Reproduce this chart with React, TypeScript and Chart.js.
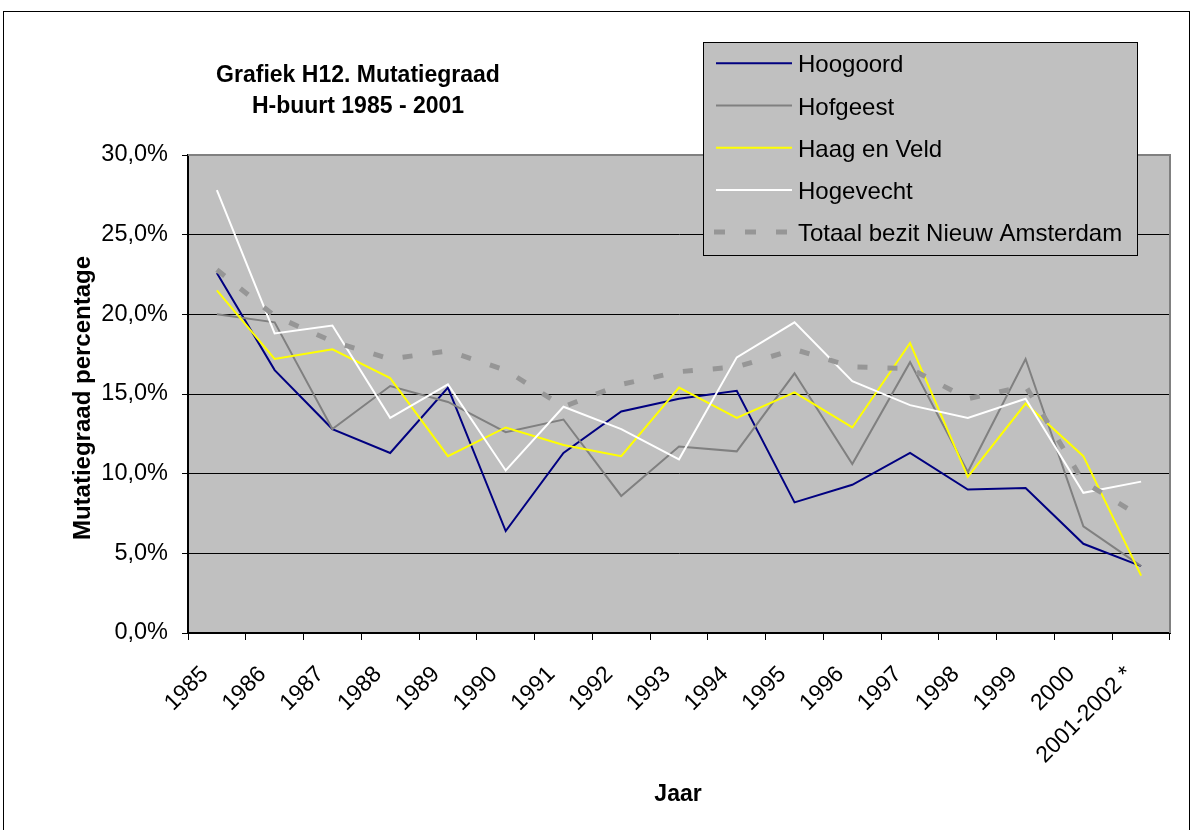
import React, { useEffect, useRef } from 'react';
import { Chart, registerables } from 'chart.js';

Chart.register(...registerables);

const categories = [
  '1985', '1986', '1987', '1988', '1989', '1990', '1991', '1992', '1993',
  '1994', '1995', '1996', '1997', '1998', '1999', '2000', '2001-2002 *',
];

const hoogoord = [22.6, 16.5, 12.8, 11.3, 15.4, 6.4, 11.3, 13.9, 14.7, 15.2, 8.2, 9.3, 11.3, 9.0, 9.1, 5.6, 4.2];
const hofgeest = [20.0, 19.5, 12.8, 15.5, 14.5, 12.6, 13.4, 8.6, 11.7, 11.4, 16.3, 10.6, 17.0, 10.1, 17.2, 6.7, 4.2];
const haagEnVeld = [21.5, 17.2, 17.8, 16.0, 11.1, 12.9, 11.8, 11.1, 15.4, 13.5, 15.1, 12.9, 18.2, 9.8, 14.4, 11.1, 3.6];
const hogevecht = [27.8, 18.8, 19.3, 13.5, 15.6, 10.2, 14.2, 12.8, 10.9, 17.3, 19.5, 15.8, 14.3, 13.5, 14.7, 8.8, 9.5];
const totaal = [22.8, 19.9, 18.3, 17.2, 17.7, 16.5, 14.2, 15.6, 16.4, 16.7, 17.8, 16.7, 16.6, 14.7, 15.5, 9.5, 7.3];

const seriesLabels = ['Hoogoord', 'Hofgeest', 'Haag en Veld', 'Hogevecht', 'Totaal bezit Nieuw Amsterdam'];
const titleLines = ['Grafiek H12. Mutatiegraad', 'H-buurt 1985 - 2001'];
const xTitle = 'Jaar';
const yTitle = 'Mutatiegraad percentage';

const FONT = "'Liberation Sans', Arial, sans-serif";

export default function App() {
  const ref = useRef<HTMLCanvasElement | null>(null);

  useEffect(() => {
    document.body.style.margin = '0';
    const canvas = ref.current;
    if (!canvas) return;

    const decor = {
      id: 'decor',
      beforeDraw(chart: any) {
        const { ctx, chartArea: a } = chart;
        ctx.save();
        ctx.fillStyle = '#ffffff';
        ctx.fillRect(0, 0, chart.width, chart.height);
        ctx.fillStyle = '#C0C0C0';
        ctx.fillRect(a.left, a.top, a.right - a.left, a.bottom - a.top);
        ctx.restore();
      },
      beforeDatasetsDraw(chart: any) {
        const { ctx, chartArea: a } = chart;
        ctx.save();
        ctx.strokeStyle = '#808080';
        ctx.lineWidth = 2;
        ctx.beginPath();
        ctx.moveTo(a.left, a.top);
        ctx.lineTo(a.right, a.top);
        ctx.lineTo(a.right, a.bottom);
        ctx.stroke();
        ctx.restore();
      },
      afterDraw(chart: any) {
        const { ctx } = chart;
        ctx.save();
        // outer border
        ctx.strokeStyle = '#000';
        ctx.lineWidth = 1;
        ctx.strokeRect(3.5, 11.5, 1186, 830);

        // title
        ctx.fillStyle = '#000';
        ctx.textAlign = 'center';
        ctx.textBaseline = 'alphabetic';
        ctx.font = `bold 23px ${FONT}`;
        ctx.fillText(titleLines[0], 358, 82);
        ctx.fillText(titleLines[1], 358, 113);

        // x title
        ctx.fillText(xTitle, 678, 801);

        // y title
        ctx.save();
        ctx.font = `bold 24px ${FONT}`;
        ctx.translate(89.5, 398);
        ctx.rotate(-Math.PI / 2);
        ctx.fillText(yTitle, 0, 0);
        ctx.restore();

        // legend
        const lx = 703, ly = 42, lw = 434, lh = 213;
        ctx.fillStyle = '#C0C0C0';
        ctx.fillRect(lx, ly, lw, lh);
        ctx.strokeStyle = '#000';
        ctx.lineWidth = 1;
        ctx.strokeRect(lx + 0.5, ly + 0.5, lw, lh);
        ctx.font = `24px ${FONT}`;
        ctx.textAlign = 'left';
        chart.data.datasets.forEach((ds: any, i: number) => {
          const base = 72.3 + i * 42.2;
          const ymid = base - 9;
          const dashed = ds.borderDash && ds.borderDash.length;
          ctx.save();
          ctx.strokeStyle = ds.borderColor;
          ctx.lineWidth = ds.borderWidth;
          ctx.setLineDash(dashed ? [11, 20] : []);
          ctx.beginPath();
          ctx.moveTo(dashed ? 714 : 716, ymid);
          ctx.lineTo(792, ymid);
          ctx.stroke();
          ctx.restore();
          ctx.fillStyle = '#000';
          ctx.fillText(ds.label, 798, base);
        });
        ctx.restore();
      },
    };

    const mk = (label: string, data: number[], color: string, order: number, width = 2, dash: number[] = []) => ({
      label,
      data,
      borderColor: color,
      backgroundColor: color,
      borderWidth: width,
      borderDash: dash,
      pointRadius: 0,
      pointHoverRadius: 0,
      tension: 0,
      fill: false,
      order,
    });

    const chart = new Chart(canvas, {
      type: 'line',
      data: {
        labels: categories,
        datasets: [
          mk(seriesLabels[0], hoogoord, '#000080', 5),
          mk(seriesLabels[1], hofgeest, '#808080', 4),
          mk(seriesLabels[2], haagEnVeld, '#FFFF00', 3),
          mk(seriesLabels[3], hogevecht, '#FFFFFF', 2),
          mk(seriesLabels[4], totaal, '#969696', 1, 5, [10, 20]),
        ],
      },
      options: {
        responsive: false,
        animation: false,
        devicePixelRatio: 1,
        events: [],
        layout: { padding: { left: 0, top: 155, right: 22, bottom: 0 } },
        plugins: {
          legend: { display: false },
          title: { display: false },
          tooltip: { enabled: false },
        },
        scales: {
          x: {
            type: 'category',
            offset: true,
            grid: {
              offset: true,
              drawOnChartArea: false,
              drawTicks: true,
              tickLength: 7,
              tickColor: '#000',
              tickWidth: 1,
            },
            border: { display: true, color: '#000', width: 2 },
            ticks: {
              autoSkip: false,
              maxRotation: 45,
              minRotation: 45,
              padding: 21,
              labelOffset: -12,
              color: '#000',
              font: { family: FONT, size: 23 },
            },
            afterFit: (s: any) => { s.height = 197; },
          },
          y: {
            min: 0,
            max: 30,
            ticks: {
              stepSize: 5,
              padding: 14,
              color: '#000',
              font: { family: FONT, size: 23.5 },
              callback: (v: any) => Number(v).toFixed(1).replace('.', ',') + '%',
            },
            grid: {
              color: '#000',
              lineWidth: 1,
              drawTicks: true,
              tickLength: 6,
              tickColor: '#000',
            },
            border: { display: true, color: '#000', width: 2 },
            afterFit: (s: any) => { s.width = 188; },
          },
        },
      },
      plugins: [decor],
    } as any);

    return () => chart.destroy();
  }, []);

  return (
    <canvas
      ref={ref}
      width={1192}
      height={830}
      style={{ display: 'block', width: 1192, height: 830 }}
    />
  );
}
